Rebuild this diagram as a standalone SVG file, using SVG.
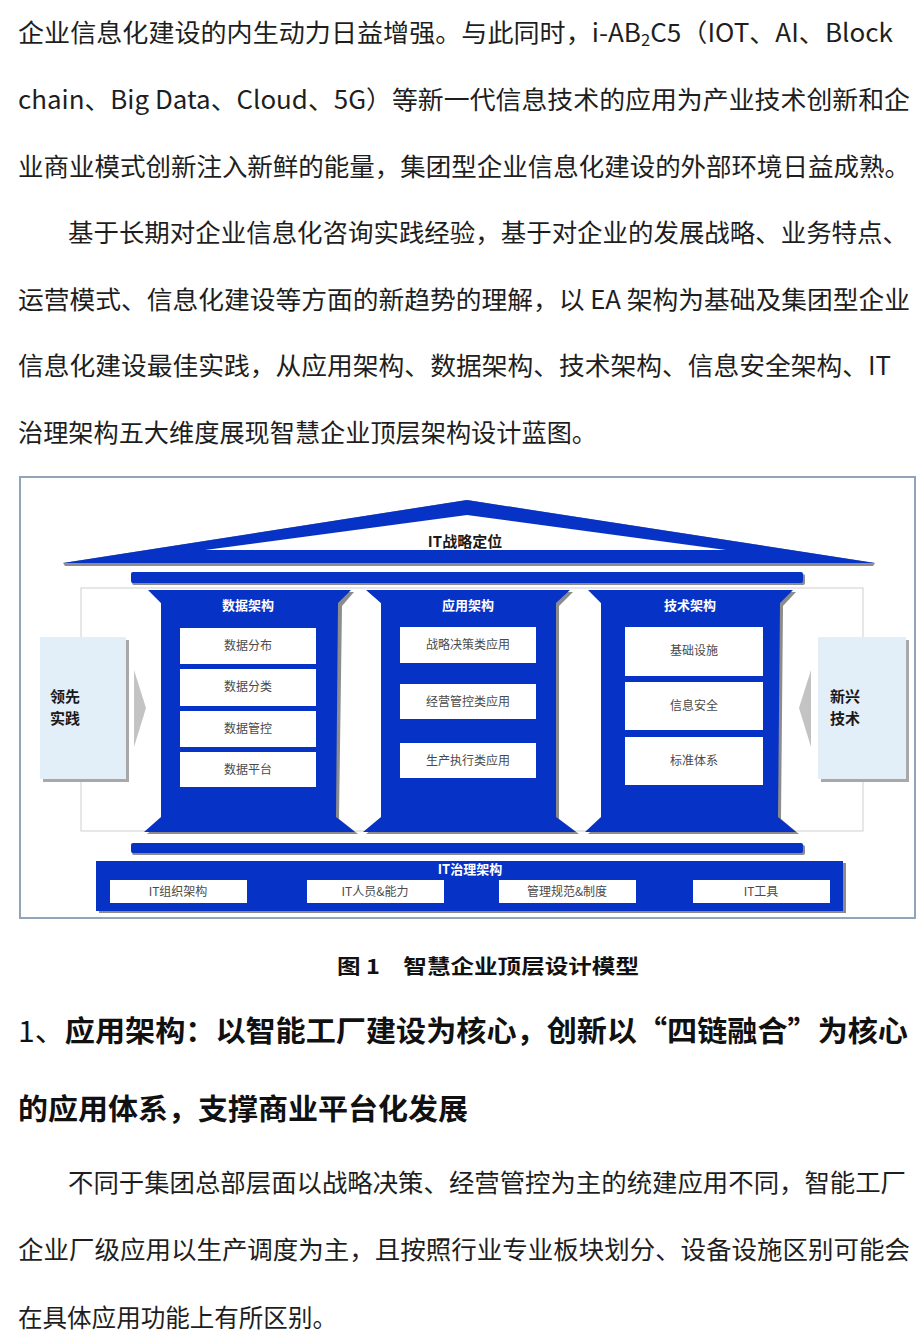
<svg xmlns="http://www.w3.org/2000/svg" width="924" height="1343" viewBox="0 0 924 1343">
<defs>
<style>
.body{font-family:"Noto Sans CJK SC","Liberation Sans",sans-serif;font-size:25px;fill:#1e1e1e;}
.head{font-family:"Noto Sans CJK SC","Liberation Sans",sans-serif;font-size:29px;font-weight:bold;fill:#111;}
.cap{font-family:"Noto Sans CJK SC","Liberation Sans",sans-serif;font-size:20px;font-weight:bold;fill:#111;}
.blue{fill:#0633c6;}
.shadow{fill:#8c8c8c;}
.ptitle{font-family:"Noto Sans CJK SC","Liberation Sans",sans-serif;font-size:13px;font-weight:bold;fill:#ffffff;text-anchor:middle;}
.box{fill:#ffffff;}
.btext{font-family:"Noto Sans CJK SC","Liberation Sans",sans-serif;font-size:12px;fill:#4a4a4a;text-anchor:middle;}
.side{fill:#e2eef8;}
.stext{font-family:"Noto Sans CJK SC","Liberation Sans",sans-serif;font-size:15px;font-weight:bold;fill:#1a1a1a;}
.arrow{fill:#c3c3c3;}
</style>
</defs>
<rect width="924" height="1343" fill="#ffffff"/>

<g id="text-top">
<text class="body" x="18" y="42" textLength="875" lengthAdjust="spacingAndGlyphs">企业信息化建设的内生动力日益增强。与此同时，i-AB<tspan font-size="16" dy="4">2</tspan><tspan dy="-4">C5（IOT、AI、Block</tspan></text>
<text class="body" x="18" y="109" textLength="892" lengthAdjust="spacingAndGlyphs">chain、Big Data、Cloud、5G）等新一代信息技术的应用为产业技术创新和企</text>
<text class="body" x="18" y="176" textLength="892" lengthAdjust="spacingAndGlyphs">业商业模式创新注入新鲜的能量，集团型企业信息化建设的外部环境日益成熟。</text>
<text class="body" x="68" y="242" textLength="840" lengthAdjust="spacingAndGlyphs">基于长期对企业信息化咨询实践经验，基于对企业的发展战略、业务特点、</text>
<text class="body" x="18" y="309" textLength="892" lengthAdjust="spacingAndGlyphs">运营模式、信息化建设等方面的新趋势的理解，以 EA 架构为基础及集团型企业</text>
<text class="body" x="18" y="375" textLength="873" lengthAdjust="spacingAndGlyphs">信息化建设最佳实践，从应用架构、数据架构、技术架构、信息安全架构、IT</text>
<text class="body" x="18" y="442" textLength="579" lengthAdjust="spacingAndGlyphs">治理架构五大维度展现智慧企业顶层架构设计蓝图。</text>
</g>

<g id="frame">
<rect x="20" y="477" width="895" height="441" fill="#ffffff" stroke="#90a5b8" stroke-width="2"/>
<rect x="81" y="588" width="782" height="243" fill="none" stroke="#cfcfcf" stroke-width="1"/>
</g>

<g id="roof">
<polygon class="shadow" points="63,563 467,500 875,563 873,566 65,566"/>
<polygon class="blue" points="63,563 467,500 875,563"/>
<polygon fill="#ffffff" points="205,550 467,515 726,550"/>
<rect class="shadow" x="132" y="574" width="673" height="11" rx="2"/>
<rect class="blue" x="131" y="572" width="672" height="11" rx="2"/>
<text x="465" y="547" font-family="Noto Sans CJK SC, Liberation Sans, sans-serif" font-size="15" font-weight="bold" fill="#1a1a1a" text-anchor="middle">IT战略定位</text>
</g>

<g id="left-practice">
<rect x="43" y="640" width="86" height="142" fill="#a8a8a8"/>
<rect class="side" x="40" y="637" width="86" height="142"/>
<text class="stext" x="50" y="702">领先</text>
<text class="stext" x="50" y="724">实践</text>
<polygon class="arrow" points="134,670 146,708 134,747"/>
</g>

<g id="right-tech">
<rect x="821" y="640" width="88" height="142" fill="#a8a8a8"/>
<rect class="side" x="818" y="637" width="88" height="142"/>
<text class="stext" x="830" y="702">新兴</text>
<text class="stext" x="830" y="724">技术</text>
<polygon class="arrow" points="811,670 799,708 811,747"/>
</g>

<g id="pillar-data">
<polygon class="shadow" points="151,592 354,592 342,606 339,819 358,834 147,834 164,819 164,606"/>
<polygon class="blue" points="148,590 351,590 338,603 336,817 355,832 144,832 161,817 161,603"/>
<text class="ptitle" x="248" y="610">数据架构</text>
<rect class="box" x="180" y="628" width="136" height="36"/>
<text class="btext" x="248" y="650">数据分布</text>
<rect class="box" x="180" y="669" width="136" height="37"/>
<text class="btext" x="248" y="691">数据分类</text>
<rect class="box" x="180" y="711" width="136" height="36"/>
<text class="btext" x="248" y="733">数据管控</text>
<rect class="box" x="180" y="752" width="136" height="35"/>
<text class="btext" x="248" y="774">数据平台</text>
</g>

<g id="pillar-app">
<polygon class="shadow" points="369,592 573,592 559,606 559,819 579,834 366,834 384,819 384,606"/>
<polygon class="blue" points="366,590 570,590 556,603 556,817 576,832 363,832 381,817 381,603"/>
<text class="ptitle" x="468" y="610">应用架构</text>
<rect class="box" x="400" y="627" width="136" height="36"/>
<text class="btext" x="468" y="649">战略决策类应用</text>
<rect class="box" x="400" y="684" width="136" height="35"/>
<text class="btext" x="468" y="706">经营管控类应用</text>
<rect class="box" x="400" y="743" width="136" height="35"/>
<text class="btext" x="468" y="765">生产执行类应用</text>
</g>

<g id="pillar-tech">
<polygon class="shadow" points="591,592 796,592 783,606 781,819 799,834 588,834 604,819 604,606"/>
<polygon class="blue" points="588,590 793,590 780,603 778,817 796,832 585,832 601,817 601,603"/>
<text class="ptitle" x="690" y="610">技术架构</text>
<rect class="box" x="625" y="627" width="138" height="49"/>
<text class="btext" x="694" y="655">基础设施</text>
<rect class="box" x="625" y="682" width="138" height="48"/>
<text class="btext" x="694" y="710">信息安全</text>
<rect class="box" x="625" y="737" width="138" height="48"/>
<text class="btext" x="694" y="765">标准体系</text>
</g>

<g id="it-governance">
<rect class="shadow" x="132" y="845" width="673" height="10" rx="2"/>
<rect class="blue" x="131" y="843" width="672" height="10" rx="2"/>
<rect class="shadow" x="99" y="863" width="747" height="50"/>
<rect class="blue" x="96" y="861" width="747" height="50"/>
<text class="ptitle" x="470" y="874">IT治理架构</text>
<rect class="box" x="110" y="880" width="137" height="23"/>
<text class="btext" x="178" y="896">IT组织架构</text>
<rect class="box" x="307" y="880" width="137" height="23"/>
<text class="btext" x="375" y="896">IT人员&amp;能力</text>
<rect class="box" x="499" y="880" width="137" height="23"/>
<text class="btext" x="567" y="896">管理规范&amp;制度</text>
<rect class="box" x="693" y="880" width="137" height="23"/>
<text class="btext" x="761" y="896">IT工具</text>
</g>

<g id="connectors"></g>

<g id="text-bottom">
<text class="cap" x="337" y="974" textLength="302" lengthAdjust="spacingAndGlyphs">图 1　智慧企业顶层设计模型</text>
<text class="head" x="18" y="1042" textLength="890" lengthAdjust="spacingAndGlyphs"><tspan font-weight="normal">1、</tspan>应用架构：以智能工厂建设为核心，创新以“四链融合”为核心</text>
<text class="head" x="18" y="1120" textLength="450" lengthAdjust="spacingAndGlyphs">的应用体系，支撑商业平台化发展</text>
<text class="body" x="68" y="1192" textLength="838" lengthAdjust="spacingAndGlyphs">不同于集团总部层面以战略决策、经营管控为主的统建应用不同，智能工厂</text>
<text class="body" x="18" y="1259" textLength="892" lengthAdjust="spacingAndGlyphs">企业厂级应用以生产调度为主，且按照行业专业板块划分、设备设施区别可能会</text>
<text class="body" x="18" y="1327" textLength="319" lengthAdjust="spacingAndGlyphs">在具体应用功能上有所区别。</text>
</g>
</svg>
